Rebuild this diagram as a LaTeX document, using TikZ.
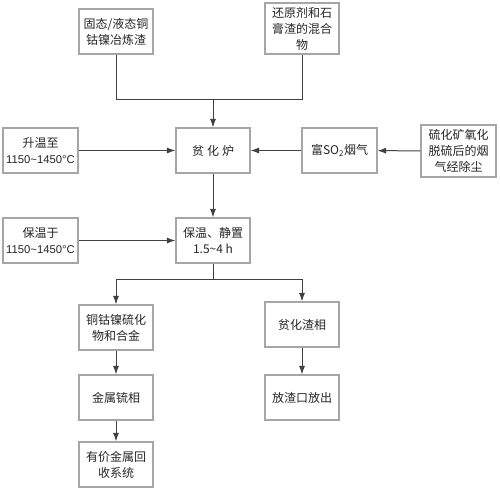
\documentclass[tikz,border=0pt]{standalone}
\usepackage{fontspec}
\setmainfont{Liberation Sans}
\newfontfamily\cjk{Noto Sans CJK SC}
\usetikzlibrary{arrows.meta}
\begin{document}
\begin{tikzpicture}[x=1pt,y=-1pt,
  box/.style={draw=black!35,line width=1.1pt,fill=white,inner sep=0pt,
    minimum width=74pt,minimum height=45pt,align=center,
    font=\cjk\fontsize{12}{16}\selectfont,text=black!85},
  num/.style={},
  conn/.style={draw=black!75,line width=1pt},
  arr/.style={conn,-{Latex[length=8.5pt,width=6pt]}}]
\useasboundingbox (0,0) rectangle (500,491);
\node[box] (b1) at (116,31.5) {固态/液态铜\\钴镍冶炼渣};
\node[box,minimum height=51pt] (b2) at (302,28.5) {还原剂和石\\膏渣的混合\\物};
\node[box] (fur) at (213,150.5) {贫\hspace{3pt}化\hspace{3pt}炉};
\node[box,minimum width=75pt] (heat) at (40.5,150.5) {升温至\\{\rmfamily\fontsize{11.3}{16}\selectfont 1150\textasciitilde 1450°C}};
\node[box,minimum width=75pt] (so2) at (339.5,150.5) {富SO\textsubscript{2}烟气};
\node[box,minimum width=75pt,minimum height=52pt] (ore) at (458.5,151) {硫化矿氧化\\脱硫后的烟\\气经除尘};
\node[box,minimum width=75pt] (hold) at (40.5,240.5) {保温于\\{\rmfamily\fontsize{11.3}{16}\selectfont 1150\textasciitilde 1450°C}};
\node[box] (keep) at (213,240.5) {保温、静置\\1.5\textasciitilde 4 h};
\node[box] (alloy) at (116,327.5) {铜钴镍硫化\\物和合金};
\node[box] (slag) at (302,324.5) {贫化渣相};
\node[box] (matte) at (116,397.5) {金属锍相};
\node[box] (out) at (302,397.5) {放渣口放出};
\node[box] (rec) at (116,464.5) {有价金属回\\收系统};
\coordinate (j1) at (213,99);
\coordinate (j2) at (213,279);
\draw[conn] (b1.south) |- (j1);
\draw[conn] (b2.south) |- (j1);
\draw[arr] (j1) -- (fur.north);
\draw[arr] (heat) -- (fur);
\draw[arr] (ore) -- (so2);
\draw[arr] (so2) -- (fur);
\draw[arr] (fur) -- (keep);
\draw[arr] (hold) -- (keep);
\draw[conn] (keep.south) -- (j2);
\draw[arr] (j2) -| (alloy.north);
\draw[arr] (j2) -| (slag.north);
\draw[arr] (alloy) -- (matte);
\draw[arr] (matte) -- (rec);
\draw[arr] (slag) -- (out);
\end{tikzpicture}
\end{document}
